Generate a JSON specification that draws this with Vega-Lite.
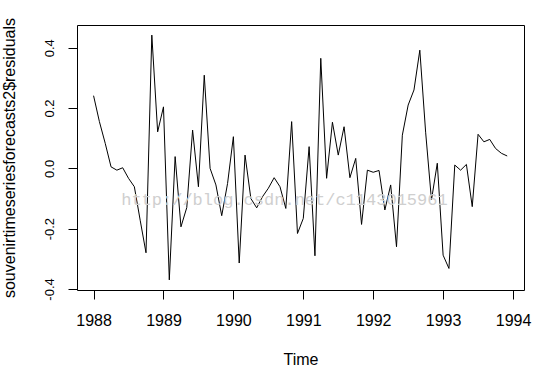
{
  "$schema": "https://vega.github.io/schema/vega-lite/v6.json",
  "width": 447,
  "height": 265,
  "autosize": {"type": "none"},
  "padding": {"left": 77, "top": 25, "right": 29, "bottom": 91},
  "background": "white",
  "config": {
    "view": {"stroke": "black", "strokeWidth": 1},
    "axis": {
      "grid": false,
      "domain": false,
      "tickColor": "black",
      "tickSize": 9,
      "tickWidth": 1,
      "labelColor": "black",
      "titleColor": "black",
      "labelFont": "Liberation Sans",
      "titleFont": "Liberation Sans",
      "titleFontWeight": "normal",
      "labelFlush": false,
      "labelOverlap": false
    }
  },
  "encoding": {
    "x": {
      "field": "t",
      "type": "quantitative",
      "scale": {"domain": [1987.763, 1994.157], "nice": false, "zero": false},
      "axis": {
        "title": "Time",
        "values": [1988, 1989, 1990, 1991, 1992, 1993, 1994],
        "format": "d",
        "labelFontSize": 16,
        "labelBaseline": "alphabetic",
        "labelPadding": 26,
        "titleFontSize": 16,
        "titleBaseline": "alphabetic",
        "titleAlign": "center",
        "titleX": 223.5,
        "titleY": 74
      }
    },
    "y": {
      "field": "r",
      "type": "quantitative",
      "scale": {"domain": [-0.4035, 0.4755], "nice": false, "zero": false},
      "axis": {
        "title": "souvenirtimeseriesforecasts2$residuals",
        "values": [-0.4, -0.2, 0, 0.2, 0.4],
        "labelExpr": "datum.value < 0 ? '-' + format(-datum.value, '.1f') : format(datum.value, '.1f')",
        "labelAngle": -90,
        "labelAlign": "center",
        "labelBaseline": "alphabetic",
        "labelFontSize": 13,
        "labelPadding": 15,
        "titleAngle": -90,
        "titleAlign": "center",
        "titleBaseline": "alphabetic",
        "titleFontSize": 16,
        "titleX": -62.5,
        "titleY": 132.5
      }
    }
  },
  "layer": [
    {
      "data": {
        "values": [
          {"t": 1988.0, "r": 0.241}, {"t": 1988.0833, "r": 0.155}, {"t": 1988.1667, "r": 0.083}, {"t": 1988.25, "r": 0.005},
          {"t": 1988.3333, "r": -0.006}, {"t": 1988.4167, "r": 0.002}, {"t": 1988.5, "r": -0.033}, {"t": 1988.5833, "r": -0.061},
          {"t": 1988.6667, "r": -0.172}, {"t": 1988.75, "r": -0.28}, {"t": 1988.8333, "r": 0.442}, {"t": 1988.9167, "r": 0.121},
          {"t": 1989.0, "r": 0.204}, {"t": 1989.0833, "r": -0.37}, {"t": 1989.1667, "r": 0.039}, {"t": 1989.25, "r": -0.194},
          {"t": 1989.3333, "r": -0.13}, {"t": 1989.4167, "r": 0.127}, {"t": 1989.5, "r": -0.061}, {"t": 1989.5833, "r": 0.309},
          {"t": 1989.6667, "r": 0.0}, {"t": 1989.75, "r": -0.055}, {"t": 1989.8333, "r": -0.157}, {"t": 1989.9167, "r": -0.05},
          {"t": 1990.0, "r": 0.105}, {"t": 1990.0833, "r": -0.314}, {"t": 1990.1667, "r": 0.044}, {"t": 1990.25, "r": -0.1},
          {"t": 1990.3333, "r": -0.131}, {"t": 1990.4167, "r": -0.094}, {"t": 1990.5, "r": -0.066}, {"t": 1990.5833, "r": -0.031},
          {"t": 1990.6667, "r": -0.061}, {"t": 1990.75, "r": -0.133}, {"t": 1990.8333, "r": 0.155}, {"t": 1990.9167, "r": -0.216},
          {"t": 1991.0, "r": -0.166}, {"t": 1991.0833, "r": 0.072}, {"t": 1991.1667, "r": -0.29}, {"t": 1991.25, "r": 0.365},
          {"t": 1991.3333, "r": -0.033}, {"t": 1991.4167, "r": 0.153}, {"t": 1991.5, "r": 0.044}, {"t": 1991.5833, "r": 0.138},
          {"t": 1991.6667, "r": -0.031}, {"t": 1991.75, "r": 0.033}, {"t": 1991.8333, "r": -0.186}, {"t": 1991.9167, "r": -0.006},
          {"t": 1992.0, "r": -0.013}, {"t": 1992.0833, "r": -0.007}, {"t": 1992.1667, "r": -0.138}, {"t": 1992.25, "r": -0.055},
          {"t": 1992.3333, "r": -0.26}, {"t": 1992.4167, "r": 0.11}, {"t": 1992.5, "r": 0.21}, {"t": 1992.5833, "r": 0.26},
          {"t": 1992.6667, "r": 0.392}, {"t": 1992.75, "r": 0.12}, {"t": 1992.8333, "r": -0.105}, {"t": 1992.9167, "r": 0.017},
          {"t": 1993.0, "r": -0.288}, {"t": 1993.0833, "r": -0.332}, {"t": 1993.1667, "r": 0.011}, {"t": 1993.25, "r": -0.006},
          {"t": 1993.3333, "r": 0.013}, {"t": 1993.4167, "r": -0.127}, {"t": 1993.5, "r": 0.113}, {"t": 1993.5833, "r": 0.088},
          {"t": 1993.6667, "r": 0.096}, {"t": 1993.75, "r": 0.066}, {"t": 1993.8333, "r": 0.05}, {"t": 1993.9167, "r": 0.041}
        ]
      },
      "mark": {"type": "line", "color": "black", "strokeWidth": 1}
    },
    {
      "data": {"values": [{"t": 1990.73, "r": -0.105, "label": "http://blog.csdn.net/c1143015961"}]},
      "mark": {"type": "text", "font": "Liberation Mono", "fontSize": 17, "color": "#cfcfcf", "align": "center", "baseline": "middle"},
      "encoding": {"text": {"field": "label"}}
    }
  ]
}
